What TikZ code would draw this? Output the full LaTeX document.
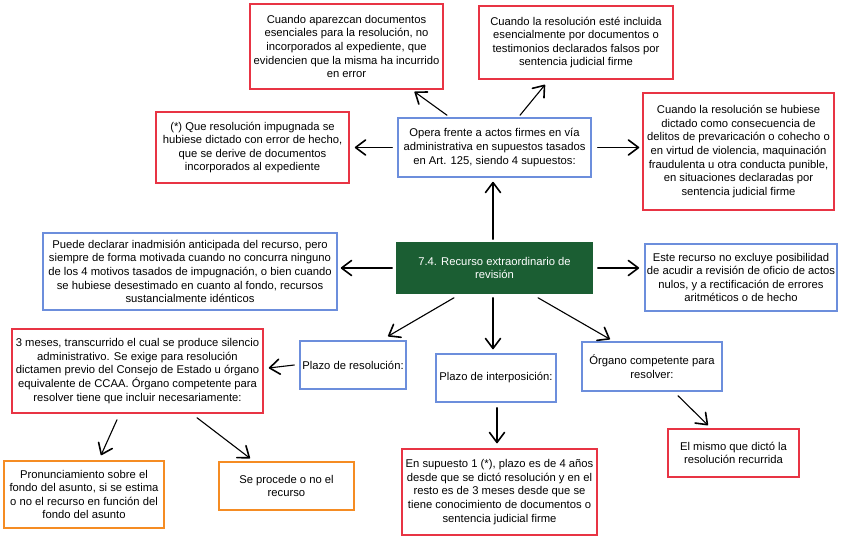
\documentclass[tikz,border=0pt]{standalone}
\usepackage{fontspec}
\setmainfont{Liberation Sans}
\usetikzlibrary{arrows.meta,calc}
\definecolor{bred}{RGB}{232,52,68}
\definecolor{bblue}{RGB}{108,142,220}
\definecolor{bgreen}{RGB}{27,94,51}
\definecolor{borange}{RGB}{245,140,35}
\begin{document}
\begin{tikzpicture}[x=1pt,y=-1pt,
  box/.style={draw, line width=1.5pt, align=center, inner sep=2pt,
    font=\fontsize{11.25}{13.6}\selectfont, text=black},
  redbox/.style={box, draw=bred},
  bluebox/.style={box, draw=bblue},
  orangebox/.style={box, draw=borange},
  greenbox/.style={box, draw=bgreen, fill=bgreen, text=white},
  arr/.style={draw=black, line width=1.1pt, line cap=round, line join=round,
    -{Straight Barb[round,length=10pt,width=15pt,line width=1.6pt]}}]
\useasboundingbox (0,0) rectangle (848,541);
% nodes
\node[redbox, minimum width=193, minimum height=85] (A1) at (346.5,46.5)
  {Cuando aparezcan documentos\\esenciales para la resolución, no\\incorporados al expediente, que\\evidencien que la misma ha incurrido\\en error};
\node[redbox, minimum width=194, minimum height=73] (A2) at (576,42.5)
  {Cuando la resolución esté incluida\\esencialmente por documentos o\\testimonios declarados falsos por\\sentencia judicial firme};
\node[redbox, minimum width=193, minimum height=71] (A3) at (252.5,147.5)
  {(*) Que resolución impugnada se\\hubiese dictado con error de hecho,\\que se derive de documentos\\incorporados al expediente};
\node[bluebox, minimum width=193, minimum height=59] (OP) at (494.5,147.5)
  {Opera frente a actos firmes en vía\\administrativa en supuestos tasados\\en Art. 125, siendo 4 supuestos:};
\node[redbox, minimum width=191, minimum height=117] (A4) at (738.5,151.5)
  {Cuando la resolución se hubiese\\dictado como consecuencia de\\delitos de prevaricación o cohecho o\\en virtud de violencia, maquinación\\fraudulenta u otra conducta punible,\\en situaciones declaradas por\\sentencia judicial firme};
\node[bluebox, minimum width=294, minimum height=77] (PD) at (190,271.5)
  {Puede declarar inadmisión anticipada del recurso, pero\\siempre de forma motivada cuando no concurra ninguno\\de los 4 motivos tasados de impugnación, o bien cuando\\se hubiese desestimado en cuanto al fondo, recursos\\sustancialmente idénticos};
\node[greenbox, minimum width=195, minimum height=50] (C) at (494.5,268)
  {7.4. Recurso extraordinario de\\revisión};
\node[bluebox, minimum width=186, minimum height=67] (ER) at (741,277.5)
  {Este recurso no excluye posibilidad\\de acudir a revisión de oficio de actos\\nulos, y a rectificación de errores\\aritméticos o de hecho};
\node[redbox, minimum width=251, minimum height=84] (TM) at (137.5,371)
  {3 meses, transcurrido el cual se produce silencio\\administrativo. Se exige para resolución\\dictamen previo del Consejo de Estado u órgano\\equivalente de CCAA. Órgano competente para\\resolver tiene que incluir necesariamente:};
\node[bluebox, minimum width=106, minimum height=48] (PR) at (353,365)
  {Plazo de resolución:};
\node[bluebox, minimum width=120, minimum height=48] (PI) at (496,378)
  {Plazo de interposición:};
\node[bluebox, minimum width=140, minimum height=49] (OC) at (652,366.5)
  {Órgano competente para\\resolver:};
\node[redbox, minimum width=131, minimum height=48] (EM) at (733.5,453)
  {El mismo que dictó la\\resolución recurrida};
\node[orangebox, minimum width=160, minimum height=67] (PF) at (84,494.5)
  {Pronunciamiento sobre el\\fondo del asunto, si se estima\\o no el recurso en función del\\fondo del asunto};
\node[orangebox, minimum width=135, minimum height=48] (SP) at (286.5,486)
  {Se procede o no el\\recurso};
\node[redbox, minimum width=195, minimum height=86] (ES) at (499.5,492)
  {En supuesto 1 (*), plazo es de 4 años\\desde que se dictó resolución y en el\\resto es de 3 meses desde que se\\tiene conocimiento de documentos o\\sentencia judicial firme};
% connectors
\draw[arr] ($(C.north)+(-1.5,-3)$) -- ($(OP.south)+(-1.5,4)$);
\draw[arr] ($(OP.north)+(-47.5,-2)$) -- ($(A1.south)+(68,2)$);
\draw[arr] ($(OP.north)+(25.5,-2)$) -- ($(A2.south)+(-31,5)$);
\draw[arr] ($(OP.west)+(-5,0)$) -- ($(A3.east)+(5,0)$);
\draw[arr] ($(OP.east)+(6,0)$) -- ($(A4.west)+(-3,-4)$);
\draw[arr] ($(C.west)+(-4,0)$) -- ($(PD.east)+(3,-3.5)$);
\draw[arr] ($(C.east)+(5,0)$) -- ($(ER.west)+(-5,-9.5)$);
\draw[arr] ($(C.south)+(-40.5,4)$) -- ($(PR.north)+(35,-4)$);
\draw[arr] ($(C.south)+(-1.5,4)$) -- ($(PI.north)+(-3,-4)$);
\draw[arr] ($(C.south)+(43.5,4)$) -- ($(OC.north)+(-42,-2)$);
\draw[arr] ($(PR.west)+(-5,0)$) -- ($(TM.east)+(5,-3)$);
\draw[arr] ($(PI.south)+(1,5)$) -- ($(ES.north)+(-2.5,-5)$);
\draw[arr] ($(OC.south)+(26,4)$) -- ($(EM.north)+(-25.5,-3)$);
\draw[arr] ($(TM.south)+(-20.5,6)$) -- ($(PF.north)+(17,-5)$);
\draw[arr] ($(TM.south)+(59.5,4)$) -- ($(SP.north)+(-36.5,-3)$);
\end{tikzpicture}
\end{document}
